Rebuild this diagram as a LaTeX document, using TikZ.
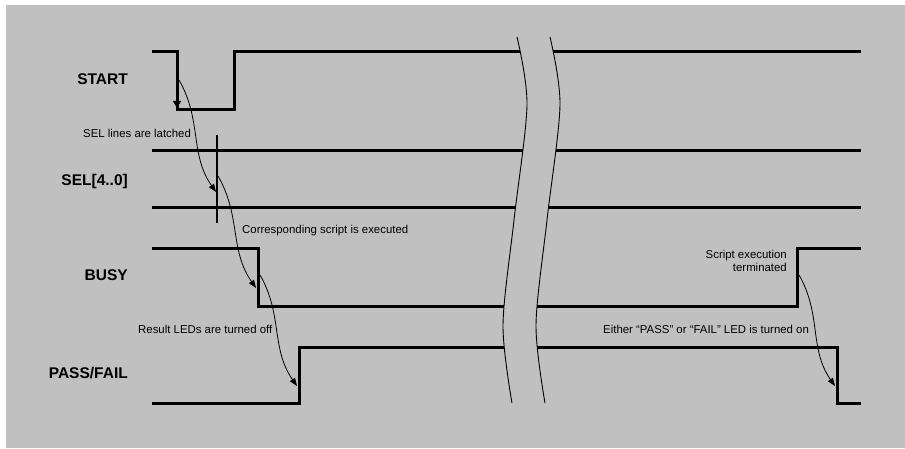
\documentclass[tikz,border=0pt]{standalone}
\usepackage{fontspec}
\setmainfont{Liberation Sans}
\usetikzlibrary{arrows.meta}
\definecolor{panel}{RGB}{192,192,192}

\begin{document}
\begin{tikzpicture}[x=1pt, y=-1pt,
    sig/.style={line width=3pt, line join=miter},
    signame/.style={font=\bfseries\fontsize{15.5}{17}\selectfont, anchor=east, inner sep=0pt},
    note/.style={font=\fontsize{11.4}{13}\selectfont, inner sep=0pt},
    cause/.style={line width=0.8pt, -{Triangle[length=8pt,width=6pt]}, out=-60, in=125},
    brk/.style={line width=0.9pt}]
  % Panel
  \useasboundingbox (0,0) rectangle (905,449);
  \fill[panel] (6,5) rectangle (905,448);

  % Signal names
  \node[signame] (lstart) at (128,79) {START};
  \node[signame] (lsel) at (128,181) {SEL[4..0]};
  \node[signame] (lbusy) at (128,275) {BUSY};
  \node[signame] (lpf) at (128,373) {PASS/FAIL};

  % Waveforms
  \draw[sig] (152,52) -- (177,52) -- (177,110) -- (234,110) -- (234,52) -- (861,52);
  \draw[sig] (152,151) -- (861,151);
  \draw[sig] (152,208) -- (861,208);
  \draw[sig] (152,249) -- (258,249) -- (258,306) -- (797,306) -- (797,249) -- (861,249);
  \draw[sig] (152,403) -- (299,403) -- (299,347) -- (837,347) -- (837,403) -- (861,403);

  % Falling edge of START
  \draw[line width=0.8pt, -{Triangle[length=7pt,width=8pt]}] (177,95) -- (177,108);

  % Latch mark
  \draw[line width=1.2pt] (217,135) -- (217,223);

  % Time break
  \fill[panel] plot[smooth] coordinates {(517,37) (527,105) (514,220) (503,325) (512,403)}
    -- plot[smooth] coordinates {(545,403) (536,325) (547,220) (560,105) (550,37)} -- cycle;
  \draw[brk] plot[smooth] coordinates {(517,37) (527,105) (514,220) (503,325) (512,403)};
  \draw[brk] plot[smooth] coordinates {(550,37) (560,105) (547,220) (536,325) (545,403)};

  % Events
  \coordinate (startfall) at (179,80);
  \coordinate (latchin) at (216,192);
  \coordinate (latchout) at (218,176);
  \coordinate (busyfallin) at (256,288);
  \coordinate (busyfallout) at (260,275);
  \coordinate (pfrise) at (297,386);
  \coordinate (busyrise) at (799,275);
  \coordinate (pffall) at (835,386);
  \draw[cause] (startfall) to (latchin);
  \draw[cause] (latchout) to (busyfallin);
  \draw[cause] (busyfallout) to (pfrise);
  \draw[cause] (busyrise) to (pffall);

  % Notes
  \node[note, anchor=west] (nlatch) at (83,133) {SEL lines are latched};
  \node[note, anchor=west] (nexec) at (242,231) {Corresponding script is executed};
  \node[note, anchor=west] (noff) at (138,329) {Result LEDs are turned off};
  \node[note, anchor=east, align=right] (nterm) at (787,261) {Script execution\\terminated};
  \node[note, anchor=west] (non) at (603,329) {Either “PASS” or “FAIL” LED is turned on};
\end{tikzpicture}
\end{document}
